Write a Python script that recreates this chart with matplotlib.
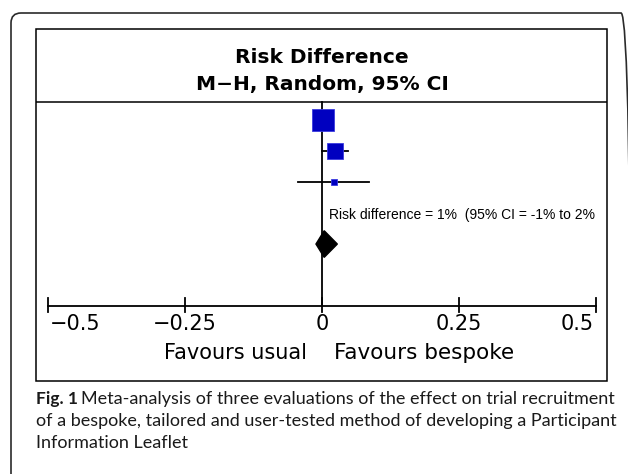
import matplotlib
matplotlib.use("Agg")
import matplotlib.pyplot as plt
from matplotlib.patches import FancyBboxPatch, Rectangle, Polygon

# study results (risk difference)
effects = [0.001, 0.024, 0.021]
ci_low = [-0.012, 0.000, -0.043]
ci_high = [0.014, 0.048, 0.085]
weights = [64, 30, 6]  # % weight, drives square size

pooled_est = 0.004
pooled_low = -0.011
pooled_high = 0.028

tick_values = [-0.5, -0.25, 0, 0.25, 0.5]
tick_labels = ['\u22120.5', '\u22120.25', '0', '0.25', '0.5']

W, H = 628, 474
fig = plt.figure(figsize=(W / 100, H / 100), dpi=100)
fig.patch.set_facecolor('white')


def fx(px):
    return px / W


def fy(py):
    return 1 - py / H


# outer rounded frame (runs off the right and bottom edge)
frame = FancyBboxPatch((0.11, -0.5), 6.20, 4.61 + 0.5,
                       boxstyle="round,pad=0,rounding_size=0.10",
                       transform=fig.dpi_scale_trans, facecolor='none',
                       edgecolor='#2a2a2a', linewidth=1.2)
fig.patches.append(frame)

# inner panel, y in "rows" (31 px per row)
ax = fig.add_axes([fx(36), fy(381), fx(607 - 36), (381 - 29) / H])
ax.set_xlim(-0.5219, 0.5201)
ax.set_ylim(8.42, -2.94)
ax.axis('off')
ax.add_patch(Rectangle((0, 0), 1, 1, transform=ax.transAxes, facecolor='none',
                       edgecolor='black', linewidth=1.1, clip_on=False))

# header
ax.axhline(-0.58, color='black', linewidth=1.1)
ax.text(0, -2.03, 'Risk Difference', ha='center', va='center',
        fontsize=14.5, fontweight='bold', family='DejaVu Sans')
ax.text(0, -1.15, 'M\u2212H, Random, 95% CI', ha='center', va='center',
        fontsize=14.5, fontweight='bold', family='DejaVu Sans')

# line of no effect
ax.plot([0, 0], [-0.58, 6], color='black', linewidth=1.3, zorder=2)

# studies
for i, (e, lo, hi, w) in enumerate(zip(effects, ci_low, ci_high, weights)):
    ax.plot([lo, hi], [i, i], color='black', linewidth=1.3, zorder=3)
    side = 15.8 * (w / weights[0]) ** 0.5
    ax.plot(e, i, marker='s', markersize=side, markerfacecolor='#0000c0',
            markeredgecolor='#3a3ae0', markeredgewidth=0.6, zorder=4)

# pooled diamond
dh = 0.43
ax.add_patch(Polygon([(pooled_low, 4), (pooled_est, 4 - dh), (pooled_high, 4),
                      (pooled_est, 4 + dh)], closed=True,
                     facecolor='black', edgecolor='black', zorder=4))
ax.text(0.0133, 3.06, 'Risk difference = 1%  (95% CI = -1% to 2%',
        ha='left', va='center', fontsize=10, family='Liberation Sans')

# x axis
ax.plot([tick_values[0], tick_values[-1]], [6, 6], color='black', linewidth=1.3)
aligns = ['left', 'center', 'center', 'center', 'right']
offs = [0.004, 0, 0, 0, -0.004]
for t, lab, a, o in zip(tick_values, tick_labels, aligns, offs):
    ax.plot([t, t], [5.74, 6.2], color='black', linewidth=1.3)
    ax.text(t + o, 6.58, lab, ha=a, va='center', fontsize=15,
            family='DejaVu Sans')

ax.text(-0.027, 7.52, 'Favours usual', ha='right', va='center', fontsize=15,
        family='DejaVu Sans')
ax.text(0.022, 7.52, 'Favours bespoke', ha='left', va='center', fontsize=15.5,
        family='DejaVu Sans')

# caption
cap_font = dict(family='Lato', color='#1a1a1a', va='center')
fig.text(fx(36), fy(399), 'Fig. 1', fontweight='bold', ha='left',
         fontsize=12.5, **cap_font)
fig.text(fx(81), fy(399),
         'Meta-analysis of three evaluations of the effect on trial recruitment',
         ha='left', fontsize=13, **cap_font)
fig.text(fx(36), fy(421),
         'of a bespoke, tailored and user-tested method of developing a Participant',
         ha='left', fontsize=13, **cap_font)
fig.text(fx(36), fy(443), 'Information Leaflet', ha='left', fontsize=13,
         **cap_font)

fig.savefig('out.png', dpi=100, facecolor='white')
